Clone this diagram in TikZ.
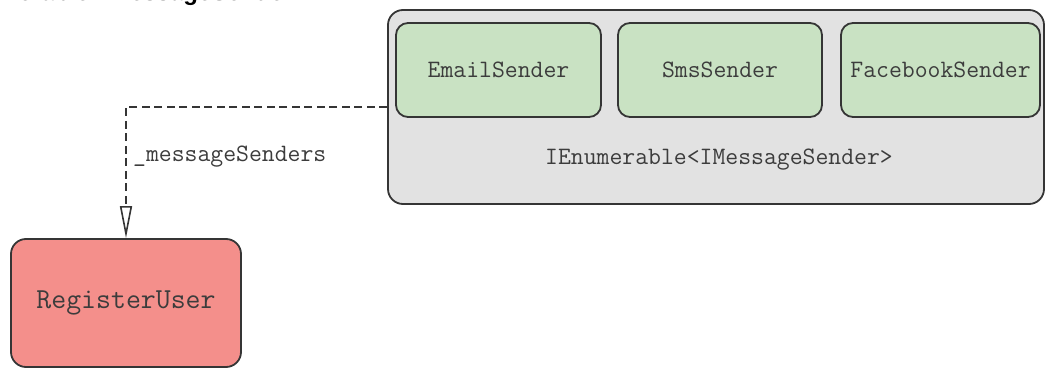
\documentclass[tikz,border=0pt]{standalone}
\usepackage{fontspec}
\setsansfont{Liberation Sans}
\usepackage{xcolor}
\usetikzlibrary{positioning,arrows.meta}
\definecolor{lineGray}{HTML}{353535}
\definecolor{txtGray}{HTML}{3C3C3C}
\definecolor{boxGreen}{HTML}{C9E2C3}
\definecolor{boxGray}{HTML}{E2E2E2}
\definecolor{boxRed}{HTML}{F48F8B}
\begin{document}
\begin{tikzpicture}[
  x=1pt, y=-1pt,
  font=\ttfamily\fontsize{25}{30}\selectfont,
  box/.style={draw=lineGray, line width=1.8pt, text=txtGray, align=center, inner sep=0pt},
  impl/.style={box, fill=boxGreen, rounded corners=12pt, minimum height=94pt},
  coll/.style={box, fill=boxGray, rounded corners=15pt, minimum width=656pt, minimum height=194pt},
  cons/.style={box, fill=boxRed, rounded corners=15pt, minimum width=230pt, minimum height=128pt,
    font=\ttfamily\fontsize{29}{34}\selectfont},
  dep/.style={draw=lineGray, line width=1.8pt, dash pattern=on 8pt off 4.5pt,
    -{Triangle[open, length=32pt, width=12pt, line width=1.6pt]}},
]
\useasboundingbox (0,0) rectangle (1045,371);
% --- caption cut off at the top edge ---
\node[anchor=base east, inner sep=0pt, text=black,
  font=\sffamily\bfseries\fontsize{24}{28}\selectfont] (cap) at (307,1) {IEnumerable<IMessageSender>};
% --- the collection of senders ---
\node[coll] (enum) at (716,107) {};
\node[impl, minimum width=205pt] (email) at (498.5,70) {EmailSender};
\node[impl, minimum width=204pt] (sms)   at (720,70)   {SmsSender};
\node[impl, minimum width=199pt] (fb)    at (940.5,70) {FacebookSender};
\node[text=txtGray, inner sep=0pt] (enumlbl) at (719,160) {IEnumerable<IMessageSender>};
% --- the consumer ---
\node[cons] (reg) at (126,303) {RegisterUser};
\draw[dep] (enum.west) -| (reg.north);
\node[text=txtGray, anchor=west, inner sep=0pt] (field) at (133,157) {\_messageSenders};
\end{tikzpicture}
\end{document}
